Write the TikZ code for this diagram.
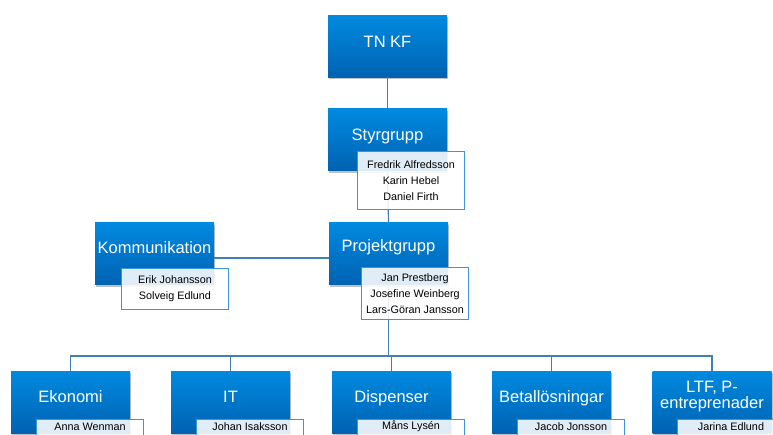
\documentclass[tikz,border=0pt]{standalone}
\usepackage{fontspec}
\setmainfont{Liberation Sans}
\usetikzlibrary{shadows}
\definecolor{boxtop}{RGB}{0,138,224}
\definecolor{boxbot}{RGB}{0,98,178}
\definecolor{linec}{RGB}{64,128,178}
\definecolor{nameborder}{RGB}{58,150,218}
\newcommand{\upname}[1]{\raisebox{3pt}[\height][\depth]{#1}}
\tikzset{
  unitbox/.style={rectangle, minimum width=119pt, minimum height=62pt, inner sep=0pt,
    top color=boxtop, bottom color=boxbot, draw=none,
    drop shadow={shadow xshift=1pt, shadow yshift=-2pt, opacity=0.35, fill=black!70}},
  title/.style={text=white, font=\fontsize{16.5}{17}\selectfont, align=center, inner sep=0pt},
  namebox/.style={rectangle, draw=nameborder, line width=1pt, fill=white, fill opacity=0.88,
    text opacity=1, minimum width=107pt, inner sep=0pt, align=center, anchor=north west,
    font=\fontsize{10.8}{16}\selectfont},
  conn/.style={draw=linec, line width=1.2pt}
}
\begin{document}
\begin{tikzpicture}[x=1pt, y=-1pt]
\useasboundingbox (0,0) rectangle (773,434);
% blue boxes
\node[unitbox] (tnkf) at (387.5,46) {};
\node[unitbox] (styr) at (387.5,139.5) {};
\node[unitbox] (proj) at (388.5,253.5) {};
\node[unitbox] (komm) at (154.5,253.5) {};
\node[unitbox] (eko) at (70.5,402) {};
\node[unitbox] (it) at (230.5,402) {};
\node[unitbox] (disp) at (391.5,402) {};
\node[unitbox] (bet) at (551.5,402) {};
\node[unitbox] (ltf) at (712,402) {};
\coordinate (bus) at (388.5,356);
% connectors
\draw[conn] (tnkf.south) -- (styr.north);
\draw[conn] (styr.south) -- (proj.north);
\draw[conn] (proj.south) -- (bus);
\draw[conn] ([yshift=-4.5pt]komm.east) -- ([yshift=-4.5pt]proj.west);
\draw[conn] (bus) -| (eko.north);
\draw[conn] (bus) -| (it.north);
\draw[conn] (bus) -| (disp.north);
\draw[conn] (bus) -| (bet.north);
\draw[conn] (bus) -| (ltf.north);
% titles
\node[title] (tnkf-t) at ([yshift=-27pt]tnkf.north) {TN KF};
\node[title] (styr-t) at ([yshift=-28pt]styr.north) {Styrgrupp};
\node[title] (proj-t) at ([yshift=-25pt]proj.north) {Projektgrupp};
\node[title] (komm-t) at ([yshift=-25pt]komm.north) {Kommunikation};
\node[title] (eko-t) at ([yshift=-26pt]eko.north) {Ekonomi};
\node[title] (it-t) at ([yshift=-26pt]it.north) {IT};
\node[title] (disp-t) at ([yshift=-27pt]disp.north) {Dispenser};
\node[title] (bet-t) at ([yshift=-27pt]bet.north) {Betallösningar};
\node[title, font=\fontsize{16.5}{16}\selectfont] (ltf-t) at ([yshift=-26pt]ltf.north) {LTF, P-\\entreprenader};
% name boxes
\node[namebox, minimum height=58pt] (styr-n) at (357,151) {Fredrik Alfredsson\\Karin Hebel\\Daniel Firth};
\node[namebox, minimum height=52pt] (proj-n) at (361,267) {Jan Prestberg\\Josefine Weinberg\\Lars-Göran Jansson};
\node[namebox, minimum height=41pt] (komm-n) at (121,268) {Erik Johansson\\Solveig Edlund};
\node[namebox, minimum height=20pt] (eko-n) at (36,419) {\upname{Anna Wenman}};
\node[namebox, minimum height=20pt] (it-n) at (196,419) {\upname{Johan Isaksson}};
\node[namebox, minimum height=20pt] (disp-n) at (357,419) {\upname{Måns Lysén}};
\node[namebox, minimum height=20pt] (bet-n) at (517,419) {\upname{Jacob Jonsson}};
\node[namebox, minimum height=20pt] (ltf-n) at (677,419) {\upname{Jarina Edlund}};
\end{tikzpicture}
\end{document}
